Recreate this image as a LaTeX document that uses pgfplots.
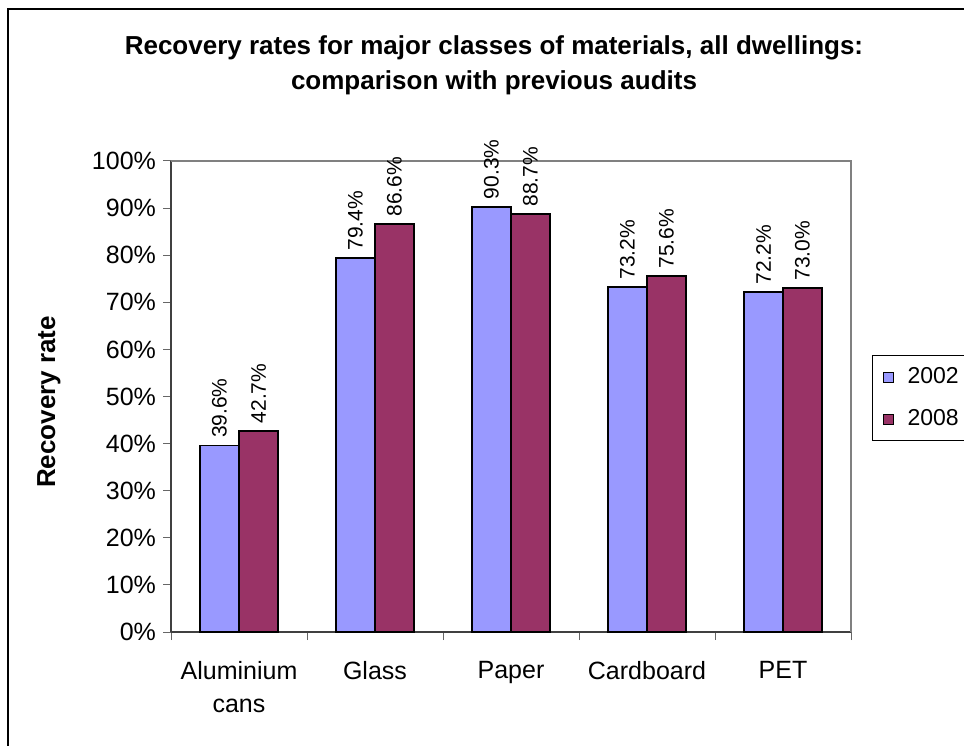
\documentclass[border=0pt]{standalone}
\usepackage{fontspec}
\setmainfont{Liberation Sans}
\usepackage{pgfplots}
\pgfplotsset{compat=1.18}
\definecolor{cA}{HTML}{9999FF}
\definecolor{cB}{HTML}{993366}

\begin{document}
\begin{tikzpicture}
\path[use as bounding box, clip] (0pt,0pt) rectangle (482pt,372.5pt);
\draw[black, line width=0.6pt] (4pt,-5pt) -- (4pt,368pt) -- (490pt,368pt);
\node[font=\fontsize{13}{17.5}\selectfont\bfseries, align=center, inner sep=0pt]
  at (247pt,340pt) {Recovery rates for major classes of materials, all dwellings:\\comparison with previous audits};
\node[font=\fontsize{13}{15}\selectfont\bfseries, rotate=90] at (24.5pt,171.5pt) {Recovery rate};
\begin{axis}[
    at={(85.5pt,56.5pt)}, anchor=south west,
    width=340pt, height=235.5pt, scale only axis,
    ybar=0pt, bar width=19.5pt,
    xmin=-0.5, xmax=4.5, ymin=0, ymax=100,
    axis x line*=bottom, axis y line*=left,
    axis line style={black!75, line width=0.6pt},
    tick align=outside, major tick length=4pt,
    tick style={black!60, line width=0.5pt},
    ytick={0,10,...,100},
    yticklabel={\pgfmathprintnumber{\tick}\%},
    /pgf/number format/assume math mode=true,
    y tick label style={font=\fontsize{12.5}{14}\selectfont},
    xtick={-0.5,0.5,...,4.5}, xticklabels={},
    extra x ticks={0,1,2,3,4},
    extra x tick labels={Aluminium\\cans, Glass, Paper, Cardboard, PET},
    extra x tick style={major tick length=0pt,
      tick label style={align=center, font=\fontsize{12.5}{16.5}\selectfont, yshift=-11pt}},
    clip=false,
    nodes near coords={\pgfmathprintnumber[fixed,fixed zerofill,precision=1]{\pgfplotspointmeta}\%},
    every node near coord/.append style={rotate=90, anchor=west, font=\fontsize{10.5}{12}\selectfont, black},
    legend style={at={(1.031,0.588)}, anchor=north west, draw=black, line width=0.5pt,
      font=\fontsize{11.5}{13}\selectfont, inner xsep=5pt, inner ysep=5pt, row sep=9.5pt,
      nodes={inner sep=1pt},
      /tikz/every odd column/.append style={column sep=6pt}},
    legend cell align=left,
    legend image code/.code={\draw[#1, line width=0.5pt] (0pt,-2.5pt) rectangle (5pt,2.5pt);},
]
\addplot[fill=cA, draw=black, line width=0.9pt] coordinates {
    (0,39.6) (1,79.4) (2,90.3) (3,73.2) (4,72.2)
};
\addlegendentry{2002\hspace{14pt}}
\addplot[fill=cB, draw=black, line width=0.9pt] coordinates {
    (0,42.7) (1,86.6) (2,88.7) (3,75.6) (4,73.0)
};
\addlegendentry{2008\hspace{14pt}}
\draw[gray, line width=0.6pt] (rel axis cs:0,1) -- (rel axis cs:1,1) -- (rel axis cs:1,0);
\end{axis}
\end{tikzpicture}
\end{document}
